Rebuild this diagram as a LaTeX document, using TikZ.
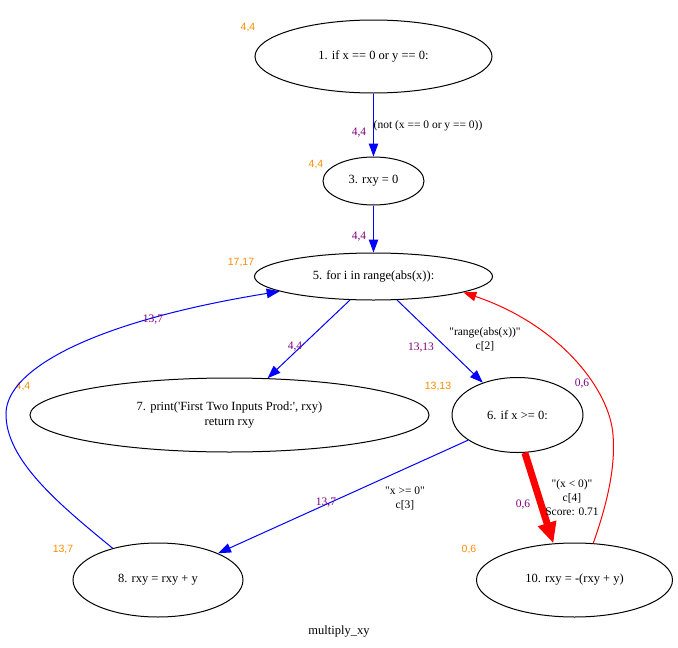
\documentclass[tikz,border=0pt]{standalone}
\usepackage{fontspec}
\setmainfont{Liberation Serif}[Ligatures=TeXOff]
\newfontfamily\countfont{Liberation Sans}
\usetikzlibrary{arrows.meta,shapes.geometric}

\definecolor{cntorange}{RGB}{255,140,0}
\definecolor{hitpurple}{RGB}{128,0,128}

\tikzset{
  stmt/.style={ellipse, draw=black, line width=1pt, inner sep=0pt,
               font=\fontsize{12.5}{15}\selectfont, align=center},
  flow/.style={draw=blue, line width=1pt, -{Triangle[length=13pt,width=9.5pt]}},
  back/.style={draw=red, line width=1pt, -{Triangle[length=13pt,width=9.5pt]}},
  hot/.style={draw=red, line width=7pt, -{Triangle[length=21pt,width=18pt]}},
  cond/.style={font=\fontsize{11.5}{14}\selectfont, align=center, inner sep=0pt},
  hits/.style={text=hitpurple, font=\fontsize{11.5}{13}\selectfont, inner sep=0pt},
  count/.style={text=cntorange, font=\countfont\fontsize{10.5}{12}\selectfont, inner sep=0pt},
}

\begin{document}
\begin{tikzpicture}[x=1pt, y=-1pt]
\useasboundingbox (0,0) rectangle (678,648);

% statements
\node[stmt, minimum width=237pt, minimum height=73pt] (n1)  at (373.5,56.5)  {1. if x == 0 or y == 0:};
\node[stmt, minimum width=101pt, minimum height=48pt] (n3)  at (373.5,181)   {3. rxy = 0};
\node[stmt, minimum width=238pt, minimum height=47pt] (n5)  at (373.5,276.5) {5. for i in range(abs(x)):};
\node[stmt, minimum width=399pt, minimum height=74pt] (n7)  at (229.5,415) {7. print('First Two Inputs Prod:', rxy)\\return rxy};
\node[stmt, minimum width=131pt, minimum height=75pt] (n6)  at (517.5,415) {6. if x >= 0:};
\node[stmt, minimum width=170pt, minimum height=74pt] (n8)  at (158,580)   {8. rxy = rxy + y};
\node[stmt, minimum width=196pt, minimum height=74pt] (n10) at (574.5,580) {10. rxy = -(rxy + y)};

% node counters
\node[count] (c1)  at (248,28)  {4,4};
\node[count] (c3)  at (316,165) {4,4};
\node[count] (c5)  at (241,263) {17,17};
\node[count] (c7)  at (23,387)  {4,4};
\node[count] (c6)  at (438,387) {13,13};
\node[count] (c8)  at (63,550)  {13,7};
\node[count] (c10) at (469,550) {0,6};

% control flow
\draw[flow] (n1) -- (n3);
\draw[flow] (n3) -- (n5);
\draw[flow] (n5.-135) -- (n7.44);
\draw[flow] (n5.-45) -- (n6.137);
\draw[flow] (n6.-153) -- (n8.24);
\draw[hot]  (n6.-79) -- (n10.120);
\coordinate (rbend) at (613,435);
\draw[back] (n10.63) .. controls (605,510) and (616,470) .. (rbend)
            .. controls (610,390) and (560,325) .. (n5.-10);
\coordinate (lbend) at (6,413);
\draw[flow] (n8.145) .. controls (60,505) and (5,460) .. (lbend)
            .. controls (7,370) and (90,322) .. (n5.-171);

% edge conditions
\node[cond] (e13)  at (428,126)   {(not (x == 0 or y == 0))};
\node[cond] (e56)  at (485,339.5) {"range(abs(x))"\\c[2]};
\node[cond] (e68)  at (405,498)   {"x >= 0"\\c[3]};
\node[cond] (e610) at (572,497.5) {"(x < 0)"\\c[4]\\Score: 0.71};

% edge counters
\node[hits] (h13)  at (359,133) {4,4};
\node[hits] (h35)  at (359,237) {4,4};
\node[hits] (h57)  at (295,347) {4,4};
\node[hits] (h56)  at (421,348) {13,13};
\node[hits] (h85)  at (153,320) {13,7};
\node[hits] (h68)  at (326,503) {13,7};
\node[hits] (h610) at (523,505) {0,6};
\node[hits] (h105) at (582,384) {0,6};

% graph title
\node[font=\fontsize{12.5}{15}\selectfont, inner sep=0pt] (title) at (339,632) {multiply\_xy};
\end{tikzpicture}
\end{document}
